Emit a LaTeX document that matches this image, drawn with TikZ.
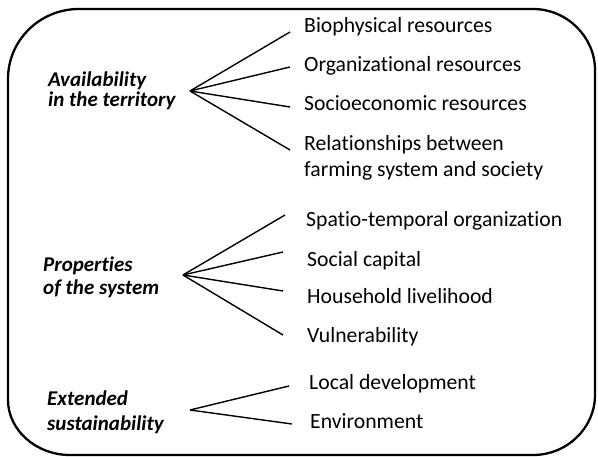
\documentclass[tikz,border=0pt]{standalone}
\usepackage{fontspec}
\setmainfont{Carlito}[Ligatures={NoCommon}]
\begin{document}
\begin{tikzpicture}[x=1pt,y=-1pt,
  item/.style={anchor=base west,inner sep=0pt,font=\fontsize{21.7}{26}\selectfont},
  head/.style={anchor=base west,inner sep=0pt,font=\fontsize{21}{26}\selectfont\bfseries\itshape},
  fan/.style={line width=1.4pt},
  frame/.style={line width=2.3pt}]
\useasboundingbox (0,0) rectangle (598,457);
\draw[frame] (8,79) .. controls (8,40) and (40,9) .. (79,9) -- (533,9)
  .. controls (567,9) and (595,37) .. (595,70) -- (595,395)
  .. controls (595,428) and (567,455) .. (533,455) -- (70,455)
  .. controls (36,455) and (8,430) .. (8,400) -- cycle;
% headings
\node[head] (h1a) at (48,87) {Availability};
\node[head] (h1b) at (48,107) {in the territory};
\node[head] (h2a) at (43,272) {Properties};
\node[head] (h2b) at (43,295) {of the system};
\node[head] (h3a) at (47,406) {Extended};
\node[head] (h3b) at (47,431) {sustainability};
% items
\node[item] (i1) at (304,33) {Biophysical resources};
\node[item] (i2) at (304,72) {Organizational resources};
\node[item] (i3) at (304,111) {Socioeconomic resources};
\node[item] (i4) at (304,151) {Relationships between};
\node[item] (i4b) at (304,177) {farming system and society};
\node[item] (j1) at (306,227) {Spatio-temporal organization};
\node[item] (j2) at (307,267) {Social capital};
\node[item] (j3) at (307,304) {Household livelihood};
\node[item] (j4) at (307,343) {Vulnerability};
\node[item] (k1) at (309,390) {Local development};
\node[item] (k2) at (310,429) {Environment};
% fan coordinates
\coordinate (a1) at (190,91);
\coordinate (e11) at (290,32);
\coordinate (e12) at (290,67);
\coordinate (e13) at (290,107);
\coordinate (e14) at (290,150);
\coordinate (a2) at (183,275);
\coordinate (e21) at (285,215);
\coordinate (e22) at (283,252);
\coordinate (e23) at (283,291);
\coordinate (e24) at (283,335);
\coordinate (a3) at (190,410);
\coordinate (e31) at (289,386);
\coordinate (e32) at (292,424);
\foreach \e in {e11,e12,e13,e14} \draw[fan] (a1) -- (\e);
\foreach \e in {e21,e22,e23,e24} \draw[fan] (a2) -- (\e);
\foreach \e in {e31,e32} \draw[fan] (a3) -- (\e);
\end{tikzpicture}
\end{document}
